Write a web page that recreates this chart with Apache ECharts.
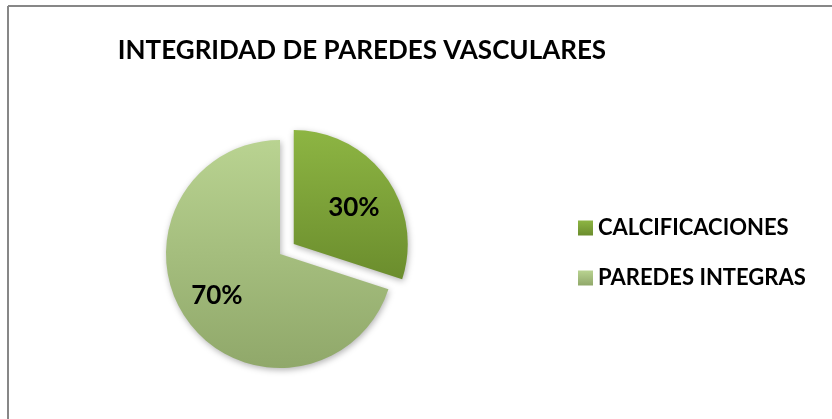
<!DOCTYPE html>
<html>
<head>
<meta charset="utf-8">
<script src="https://cdn.jsdelivr.net/npm/echarts@6/dist/echarts.min.js"></script>
<style>
  html, body { margin: 0; padding: 0; background: #fff; }
  #chart { width: 832px; height: 419px; }
</style>
</head>
<body>
<div id="chart"></div>
<script>
// datos del grafico
const categories = ["CALCIFICACIONES", "PAREDES INTEGRAS"];
const values = [30, 70];
const titleText = "INTEGRIDAD DE PAREDES VASCULARES";

// degradados tipo Excel
const sliceColors = [
  ["#8db543", "#6b8d2d"],
  ["#b9d391", "#90a86a"]
];

function grad(pair) {
  return new echarts.graphic.LinearGradient(0, 0, 0, 1, [
    { offset: 0, color: pair[0] },
    { offset: 1, color: pair[1] }
  ]);
}

const fontFam = "Lato, 'Noto Sans', sans-serif";
const pieCenter = [280, 254];

const myChart = echarts.init(document.getElementById("chart"));
myChart.setOption({
  animation: false,
  title: {
    text: titleText,
    left: 362,
    textAlign: "center",
    top: 38,
    padding: 0,
    textStyle: {
      color: "#000",
      fontFamily: fontFam,
      fontWeight: "bold",
      fontSize: 26
    }
  },
  legend: {
    orient: "vertical",
    left: 578,
    top: 217,
    padding: 0,
    itemWidth: 15,
    itemHeight: 15,
    itemGap: 28,
    icon: "rect",
    selectedMode: false,
    data: categories,
    textStyle: {
      color: "#000",
      fontFamily: fontFam,
      fontWeight: "bold",
      fontSize: 22,
      padding: [0, 0, 0, 0]
    }
  },
  graphic: [
    {
      type: "line",
      shape: { x1: 8, y1: 6, x2: 832, y2: 6 },
      style: { stroke: "#878787", lineWidth: 2 }
    },
    {
      type: "line",
      shape: { x1: 8, y1: 6, x2: 8, y2: 419 },
      style: { stroke: "#878787", lineWidth: 2 }
    }
  ],
  series: [
    {
      type: "pie",
      center: pieCenter,
      radius: 114,
      startAngle: 90,
      clockwise: true,
      selectedMode: "single",
      selectedOffset: 17,
      emphasis: { disabled: true },
      label: {
        show: true,
        position: "inside",
        formatter: "{d}%",
        color: "#000",
        fontFamily: fontFam,
        fontWeight: "bold",
        fontSize: 26
      },
      // etiquetas un poco mas hacia afuera, como en Excel
      labelLayout: function (params) {
        const r = params.labelRect;
        const cx = r.x + r.width / 2;
        const cy = r.y + r.height / 2;
        const kx = params.dataIndex === 0 ? 0.24 : 0.3;
        const ky = params.dataIndex === 0 ? 0.02 : 0.17;
        return {
          dx: (cx - pieCenter[0]) * kx,
          dy: (cy - pieCenter[1]) * ky
        };
      },
      labelLine: { show: false },
      itemStyle: {
        shadowBlur: 6,
        shadowColor: "rgba(0,0,0,0.3)",
        shadowOffsetX: 1,
        shadowOffsetY: 2
      },
      data: categories.map((name, i) => ({
        name: name,
        value: values[i],
        selected: i === 0,
        itemStyle: { color: grad(sliceColors[i]) }
      }))
    }
  ]
});
</script>
</body>
</html>
